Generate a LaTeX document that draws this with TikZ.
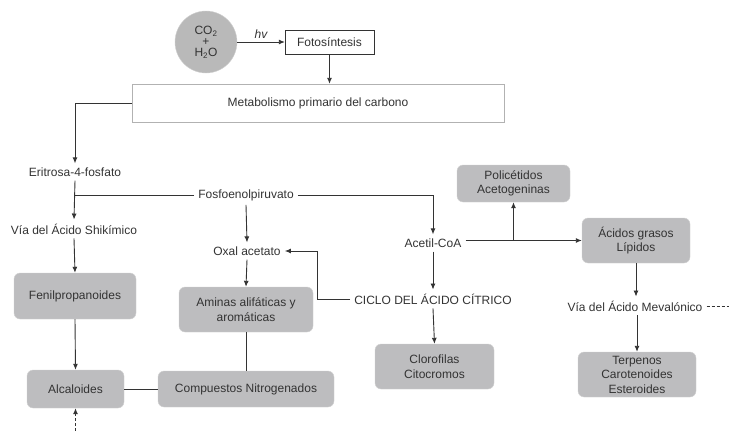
\documentclass[tikz,border=0pt]{standalone}
\usepackage{fontspec}
\setmainfont{Liberation Sans}
\usetikzlibrary{%
		arrows.meta%
		,calc%
	}

\definecolor{txtgray}{HTML}{333333}
\definecolor{boxgray}{HTML}{BDBDBF}

\begin{document}
\begin{tikzpicture}[x=1pt, y=-1pt,
		>={Latex[length=6pt,width=5pt]},
		every node/.style={text=txtgray, font=\fontsize{12}{14.5}\selectfont},
		lbl/.style={inner sep=4pt},
		gbox/.style={draw=gray!35, fill=boxgray, rounded corners=6, align=center, inner sep=2pt},
		wbox/.style={draw=txtgray, fill=white, inner sep=2pt},
		link/.style={draw=txtgray, line width=0.9pt}
	]
			\useasboundingbox (0,0) rectangle (729,431);
			
			% Fotosintesis
			\node[circle, fill=gray!55, draw=gray!35, minimum size=62, inner sep=0pt, align=center, font=\fontsize{12}{11}\selectfont] (gas) at (206,42) {CO\textsubscript{2}\\+\\H\textsubscript{2}O};
			\node[wbox, minimum width=89, minimum height=24] (foto) at (329.5,42) {Fotosíntesis};
			\node[wbox, draw=gray!60, minimum width=372, minimum height=38] (metab) at (318,103) {Metabolismo primario del carbono};
			\draw[link,->] (gas) -- node[above, font=\fontsize{12}{14}\itshape] {hv} (foto);
			\draw[link,->] (foto.south) -- (foto.south |- metab.north);
			
			% Left branch
			\node[lbl] (erit) at (75,172) {Eritrosa-4-fosfato};
			\node[lbl] (shik) at (74,229) {Vía del Ácido Shikímico};
			\node[gbox, minimum width=122, minimum height=46] (fenil) at (75,296) {Fenilpropanoides};
			\node[gbox, minimum width=97, minimum height=38] (alcal) at (75.5,389) {Alcaloides};
			\coordinate (below) at (75.5,431);
			\draw[link,->] (metab.west) -| (erit.north);
			\draw[link,->] (erit.south) -- (shik.north);
			\draw[link,->] (shik.south) -- (fenil.north);
			\draw[link,->] (fenil.south) -- (alcal.north);
			\draw[link,->,densely dashed] (below) -- (alcal.south);
			
			% Fosfoenolpiruvato
			\node[lbl] (fosfo) at (246,195) {Fosfoenolpiruvato};
			\node[lbl] (oxal) at (247,251) {Oxal acetato};
			\node[gbox, minimum width=134, minimum height=45] (amin) at (246,309.5) {Aminas alifáticas y\\aromáticas};
			\node[gbox, minimum width=176, minimum height=36] (comp) at (246,389) {Compuestos Nitrogenados};
			\draw[link] (fosfo.west) -- (fosfo.west -| erit.south);
			\draw[link,->] (fosfo.south) -- (oxal.north);
			\draw[link,->] (oxal.south) -- (amin.north);
			\draw[link] (amin.south) -- (comp.north);
			\draw[link] (alcal.east) -- (comp.west);
			
			% Acetil-CoA
			\node[lbl] (acetil) at (433,243) {Acetil-CoA};
			\node[lbl] (ciclo) at (433,299) {CICLO DEL ÁCIDO CÍTRICO};
			\node[gbox, minimum width=119, minimum height=45] (cloro) at (434.5,366.5) {Clorofilas\\Citocromos};
			\coordinate (bend) at (317,299);
			\draw[link,->] (fosfo.east) -| (acetil.north);
			\draw[link,->] (acetil.south) -- (ciclo.north);
			\draw[link,->] (ciclo.south) -- (cloro.north);
			\draw[link,->] (ciclo.west) -- (bend) |- (oxal.east);
			
			% Lipidos
			\node[gbox, minimum width=113, minimum height=37] (polic) at (513.5,183.5) {Policétidos\\Acetogeninas};
			\node[gbox, minimum width=108, minimum height=45] (acid) at (636,240.5) {Ácidos grasos\\Lípidos};
			\node[lbl] (meval) at (635,306) {Vía del Ácido Mevalónico};
			\node[gbox, minimum width=118, minimum height=45] (terp) at (637,374.5) {Terpenos\\Carotenoides\\Esteroides};
			\coordinate (dashend) at (729,306);
			\draw[link,->] (acetil.east |- acid.west) -- (acid.west);
			\draw[link,->] (acid.west -| polic.south) -- (polic.south);
			\draw[link,->] (acid.south) -- (acid.south |- meval.north);
			\draw[link,->] (meval.south -| terp.north) -- (terp.north);
			\draw[link,densely dashed] (meval.east) -- (dashend);
		\end{tikzpicture}
\end{document}
